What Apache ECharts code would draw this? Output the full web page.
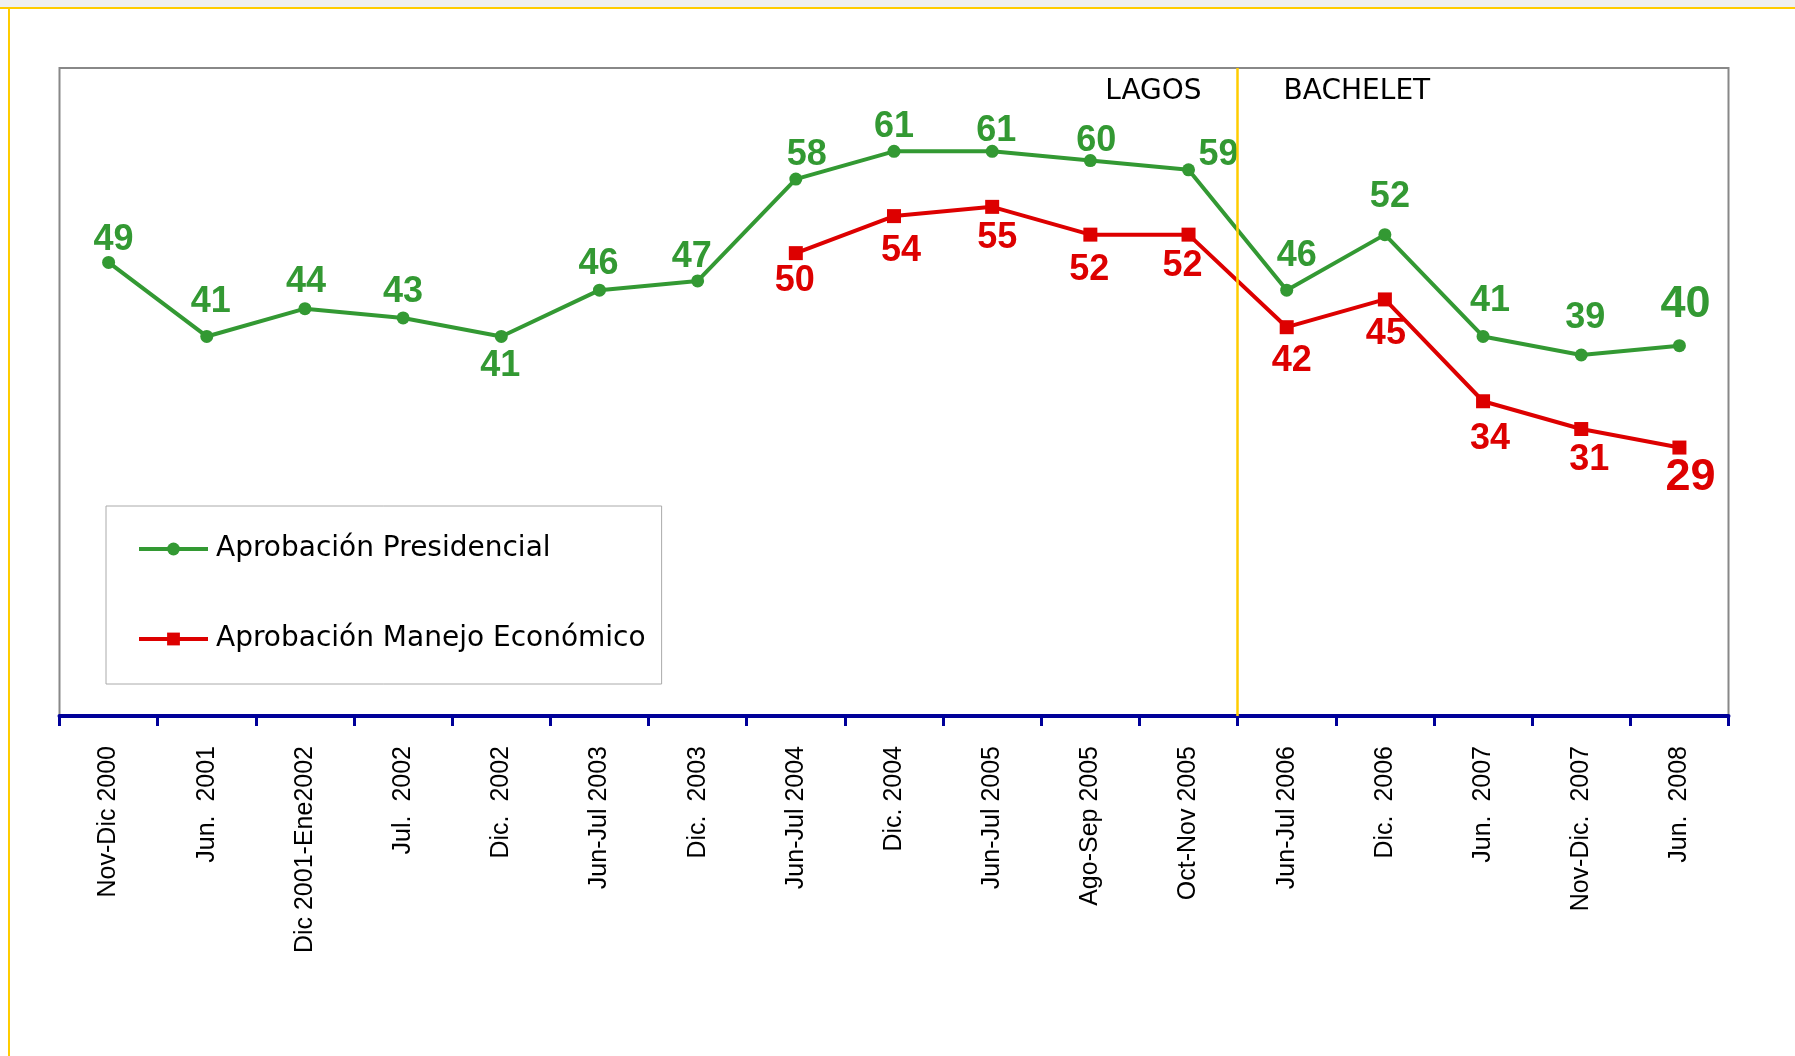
<!DOCTYPE html>
<html>
<head>
<meta charset="utf-8">
<script src="https://cdn.jsdelivr.net/npm/echarts@6/dist/echarts.min.js"></script>
<style>
html,body{margin:0;padding:0;background:#fff;}
#chart{width:1795px;height:1056px;}
</style>
</head>
<body>
<div id="chart"></div>
<script>
const categories = ['Nov-Dic 2000','Jun.  2001','Dic 2001-Ene2002','Jul.  2002','Dic.  2002','Jun-Jul 2003','Dic.  2003','Jun-Jul 2004','Dic. 2004','Jun-Jul 2005','Ago-Sep 2005','Oct-Nov 2005','Jun-Jul 2006','Dic.  2006','Jun.  2007','Nov-Dic.  2007','Jun.  2008'];
const presidencial = [49,41,44,43,41,46,47,58,61,61,60,59,46,52,41,39,40];
const economico = [null,null,null,null,null,null,null,50,54,55,52,52,42,45,34,31,29];
const seriesNames = ['Aprobación Presidencial','Aprobación Manejo Económico'];
const periodNames = ['LAGOS','BACHELET'];
const bacheletStart = categories.indexOf('Jun-Jul 2006');

// label placement (pixel offsets from each point)
const presLabelOffsets = [[5,-22],[4,-34],[1,-27],[0,-26],[-1,30],[-1,-26],[-6,-24],[11,-24],[0,-24],[4,-20],[6,-19],[30,-15],[10,-34],[5,-38],[7,-35],[4,-37],[6,-41]];
const econLabelOffsets = [null,null,null,null,null,null,null,[-1,28],[7,35],[5,31],[-1,35],[-6,31],[5,34],[1,35],[7,38],[8,31],[11,30]];

const GREEN = '#339933', RED = '#dd0000';
const lastIdx = categories.length - 1;

function items(vals, offs){
  return vals.map((v,i)=> v==null ? null : ({
    value: v,
    label: { offset: offs[i], fontSize: i===lastIdx ? 45 : 36 }
  }));
}

const chart = echarts.init(document.getElementById('chart'));
const option = {
  backgroundColor: '#fff',
  animation: false,
  grid: { left: 59.5, right: 66.5, top: 68, bottom: 340, show: true, borderColor: '#888', borderWidth: 2, backgroundColor: '#fff' },
  legend: {
    data: seriesNames,
    orient: 'vertical',
    left: 106, top: 506,
    padding: [29, 16, 31, 31],
    itemGap: 62,
    itemWidth: 69, itemHeight: 16,
    lineStyle: { width: 4 },
    borderColor: '#aaa', borderWidth: 1, backgroundColor: '#fff',
    textStyle: { fontFamily: 'DejaVu Sans', fontSize: 28, color: '#000', padding: [0,0,0,3] }
  },
  xAxis: [{
    type: 'category', data: categories, boundaryGap: true,
    axisLine: { lineStyle: { color: '#000099', width: 4 } },
    axisTick: { show: true, length: 10, lineStyle: { color: '#000099', width: 3 } },
    axisLabel: { rotate: 90, interval: 0, fontFamily: 'Liberation Sans', fontSize: 25, color: '#000', margin: 30 },
    splitLine: { show: false }
  },{
    type: 'value', min: 0, max: categories.length, show: false
  }],
  yAxis: { type: 'value', min: 0, max: 70, show: false, splitLine: { show: false } },
  series: [{
    name: seriesNames[0], type: 'line', data: items(presidencial, presLabelOffsets),
    symbol: 'circle', symbolSize: 13,
    lineStyle: { color: GREEN, width: 4 }, itemStyle: { color: GREEN },
    label: { show: true, position: 'inside', color: GREEN, fontFamily: 'Liberation Sans', fontWeight: 'bold', fontSize: 36 },
    z: 3
  },{
    name: seriesNames[1], type: 'line', data: items(economico, econLabelOffsets),
    symbol: 'rect', symbolSize: 14,
    lineStyle: { color: RED, width: 4 }, itemStyle: { color: RED },
    label: { show: true, position: 'inside', color: RED, fontFamily: 'Liberation Sans', fontWeight: 'bold', fontSize: 36 },
    z: 3
  },{
    type: 'line', xAxisIndex: 1, yAxisIndex: 0, data: [], silent: true, z: 2,
    markLine: { symbol: 'none', silent: true, label: { show: false },
      lineStyle: { color: '#ffcc00', width: 2.5, type: 'solid' },
      data: [{ xAxis: bacheletStart }] }
  }]
};
chart.setOption(option);

const lineX = chart.convertToPixel({ xAxisIndex: 1 }, bacheletStart);
chart.setOption({
  graphic: [
    { type: 'rect', left: 0, top: 0, shape: { width: 1795, height: 7 }, style: { fill: '#f0f0f0' }, z: 10 },
    { type: 'rect', left: 0, top: 7, shape: { width: 1795, height: 2 }, style: { fill: '#ffcc00' }, z: 10 },
    { type: 'rect', left: 8, top: 7, shape: { width: 2, height: 1049 }, style: { fill: '#ffcc00' }, z: 10 },
    { type: 'text', x: lineX - 36, y: 92, style: { text: periodNames[0], fill: '#000', font: '28px "DejaVu Sans"', textAlign: 'right', textVerticalAlign: 'middle' }, z: 10 },
    { type: 'text', x: lineX + 46, y: 92, style: { text: periodNames[1], fill: '#000', font: '28px "DejaVu Sans"', textAlign: 'left', textVerticalAlign: 'middle' }, z: 10 }
  ]
});
</script>
</body>
</html>
